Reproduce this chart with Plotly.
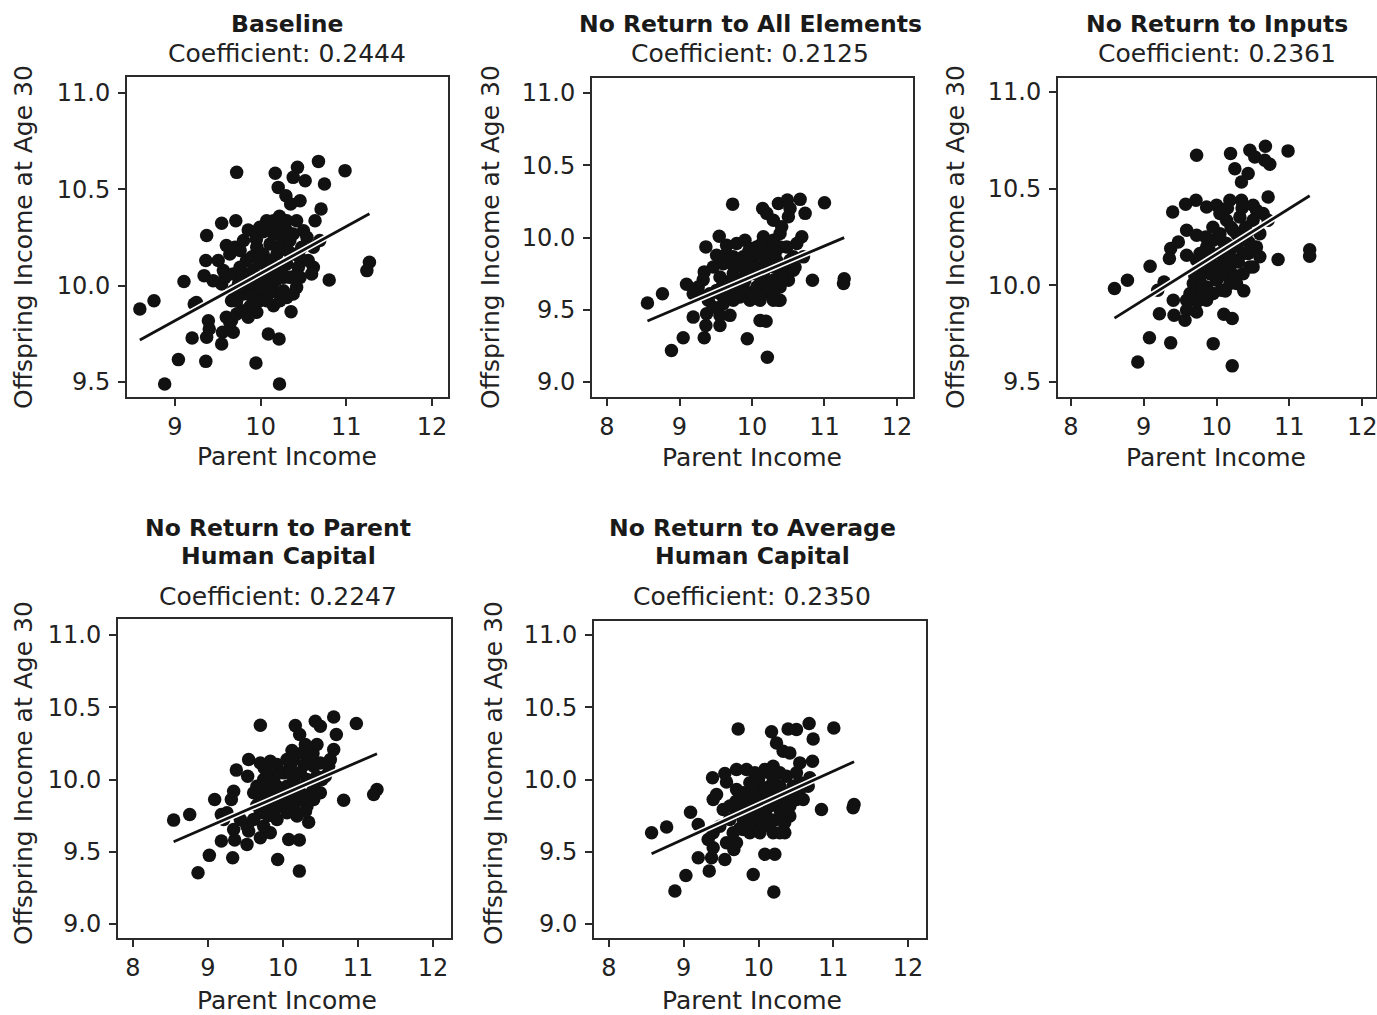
import plotly.graph_objects as go

# ---------------------------------------------------------------------------
# Data: log parent income (x) and log offspring income at age 30 (y)
# for the baseline model and four counterfactual simulations.
# ---------------------------------------------------------------------------
panel_titles = [
    ["Baseline"],
    ["No Return to All Elements"],
    ["No Return to Inputs"],
    ["No Return to Parent", "Human Capital"],
    ["No Return to Average", "Human Capital"],
]
coefficients = [0.2444, 0.2125, 0.2361, 0.2247, 0.2350]
fit_intercepts = [7.619, 7.604, 7.800, 7.650, 7.4725]

baseline_x = [8.59, 8.755, 9.105, 9.04, 8.88, 9.20, 9.36, 9.37, 9.225, 9.25, 9.37, 9.36, 9.34, 9.39, 9.40,
              9.545, 9.72, 9.71, 9.545, 9.555, 9.68, 9.64, 9.945, 10.22, 10.09, 10.215, 10.355, 10.80, 10.985,
              10.675, 10.745, 10.705, 10.635, 10.69, 11.27, 11.24, 10.17, 10.43, 10.205, 10.295, 10.38, 10.52,
              10.35, 10.46, 9.855, 9.945, 9.76, 9.60, 9.64, 9.505, 10.615, 10.595, 10.555, 10.50, 10.48, 9.915,
              9.80, 9.955, 9.875, 10.15, 10.225, 10.305, 10.42, 10.34, 9.60, 9.66, 9.72, 9.585, 9.565, 9.68,
              9.74, 9.815, 9.915, 9.99, 10.07, 10.03, 10.11, 10.15, 10.225, 10.305, 10.15, 10.07, 9.99, 10.19,
              10.265, 10.305, 10.38, 10.38, 10.44, 10.265, 10.19, 10.11, 10.03, 9.915, 9.835, 9.76, 9.68, 9.915,
              10.15, 10.46, 10.34, 10.245, 9.70, 9.80, 9.955, 10.07, 10.265, 10.38, 9.99, 9.835, 10.305, 10.42,
              10.615, 10.54, 9.78, 9.855, 10.07, 9.66, 9.545, 9.445,
              9.90, 9.98, 10.05, 10.12, 10.20, 10.26, 10.10, 9.86, 9.78, 10.00, 10.18, 10.32, 10.40, 9.95,
              10.03, 10.22, 9.72, 9.88, 10.45, 10.12]
baseline_y = [9.879, 9.922, 10.021, 9.616, 9.49, 9.728, 9.607, 9.732, 9.905, 9.913, 10.26, 10.13, 10.052, 9.818,
              9.775, 10.324, 10.588, 10.337, 9.697, 9.758, 9.758, 9.81, 9.599, 9.49, 9.749, 9.723, 9.865, 10.029,
              10.597, 10.645, 10.528, 10.398, 10.337, 10.234, 10.121, 10.078, 10.583, 10.614, 10.51, 10.467,
              10.562, 10.545, 10.424, 10.441, 10.289, 10.268, 10.182, 10.208, 10.164, 10.13, 10.095, 10.061,
              10.13, 10.285, 10.199, 9.939, 9.957, 9.862, 9.891, 9.896, 9.922, 9.939, 9.991, 10.043, 9.836, 9.818,
              9.853, 10.043, 10.078, 10.061, 10.009, 10.043, 10.009, 10.043, 10.095, 10.164, 10.216, 10.268,
              10.303, 10.337, 10.337, 10.337, 10.303, 10.164, 10.199, 10.112, 10.164, 10.268, 10.095, 10.043,
              10.078, 10.009, 9.974, 10.078, 10.13, 10.095, 9.974, 9.957, 9.974, 10.043, 10.234, 10.251, 10.199,
              10.234, 10.199, 10.061, 9.974, 9.957, 9.922, 9.991, 10.285, 10.337, 10.199, 10.251, 9.87, 9.836,
              9.922, 9.922, 10.009, 10.026,
              10.15, 10.12, 10.02, 10.13, 10.20, 10.10, 9.96, 10.06, 10.05, 9.99, 10.03, 10.18, 10.05, 10.24,
              10.28, 10.36, 9.92, 9.95, 10.15, 10.30]

no_all_x = [8.558, 8.765, 9.097, 8.889, 9.051, 9.189, 9.341, 9.364, 9.373, 9.272, 9.364, 9.341, 9.327, 9.548,
            9.733, 9.65, 9.788, 9.903, 9.972, 9.558, 9.558, 9.696, 9.935, 10.212, 10.111, 10.194, 10.364, 10.834,
            11.0, 10.664, 10.733, 10.687, 10.618, 10.71, 11.272, 11.263, 10.147, 10.364, 10.488, 10.203, 10.295,
            10.41, 10.525, 10.502, 9.512, 9.465, 9.604, 9.65, 9.742, 9.558, 9.512, 9.65, 9.742, 9.834, 9.972,
            10.065, 10.157, 10.295, 10.387, 10.502, 10.571, 10.479, 10.387, 10.295, 10.203, 10.111, 10.065,
            10.203, 10.157, 10.295, 10.387, 10.479, 10.571, 9.972, 9.926, 9.834, 9.742, 9.88, 10.018, 10.111,
            10.203, 10.295, 10.018, 9.88, 9.788, 9.696, 9.604, 9.419, 9.396, 9.465, 9.189, 9.258, 10.387, 10.295,
            10.111, 9.972, 10.525, 10.594, 10.387, 10.318, 9.88, 9.742, 9.558,
            9.70, 9.80, 9.90, 10.00, 10.08, 10.16, 10.25, 10.34, 10.44, 9.85, 9.95, 10.05, 10.25, 10.42, 9.60,
            10.12, 10.30, 9.75]
no_all_y = [9.546, 9.611, 9.676, 9.218, 9.306, 9.449, 9.306, 9.391, 9.472, 9.611, 9.935, 9.762, 9.708, 10.009,
            10.231, 9.947, 9.958, 9.981, 9.924, 9.391, 9.461, 9.461, 9.299, 9.171, 9.426, 9.421, 9.565, 9.704,
            10.241, 10.264, 10.167, 10.005, 9.958, 9.866, 9.715, 9.681, 10.201, 10.236, 10.259, 10.167, 10.12,
            10.074, 10.201, 10.144, 9.877, 9.796, 9.819, 9.889, 9.866, 9.727, 9.634, 9.588, 9.634, 9.588, 9.611,
            9.657, 9.611, 9.611, 9.657, 9.704, 9.773, 9.796, 9.75, 9.796, 9.843, 9.889, 9.935, 9.935, 10.005,
            9.981, 9.935, 9.935, 9.866, 9.819, 9.75, 9.704, 9.75, 9.796, 9.75, 9.727, 9.681, 9.704, 9.866, 9.866,
            9.681, 9.657, 9.542, 9.611, 9.565, 9.519, 9.611, 9.657, 9.565, 9.565, 9.565, 9.565, 9.843, 9.796,
            10.028, 9.889, 9.657, 9.565, 9.611,
            9.70, 9.62, 9.70, 9.82, 9.80, 9.76, 9.86, 9.84, 9.78, 9.85, 9.90, 9.60, 9.65, 9.72, 9.68, 9.95,
            9.93, 9.80]

no_inputs_x = [8.598, 8.776, 9.087, 8.918, 9.078, 9.37, 9.215, 9.192, 9.279, 9.397, 9.37, 9.352, 9.406, 9.416,
               9.575, 9.726, 9.717, 9.566, 9.589, 9.726, 9.954, 10.215, 10.1, 10.215, 10.374, 10.845, 10.982,
               10.671, 10.731, 10.708, 10.639, 10.594, 11.279, 11.279, 10.192, 10.457, 10.251, 10.342, 10.525,
               10.434, 10.342, 10.502, 9.589, 9.726, 9.475, 9.589, 10.548, 10.548, 10.502, 9.863, 10.0, 10.183,
               10.046, 10.137, 10.228, 10.32, 10.411, 10.365, 10.274, 10.183, 10.091, 10.0, 9.909, 9.817, 9.726,
               9.772, 9.863, 9.954, 10.046, 10.137, 10.228, 10.434, 10.457, 10.365, 10.274, 10.183, 10.068, 9.954,
               9.863, 9.772, 9.68, 9.635, 9.68, 9.772, 9.909, 10.046, 10.091, 10.183, 9.863, 9.589, 10.594,
               10.502, 10.274, 10.708, 10.662,
               9.70, 9.80, 9.90, 10.00, 10.10, 10.20, 10.30, 10.40, 10.05, 10.25, 9.95, 10.15, 10.35, 9.85,
               10.45, 9.75, 10.12, 10.30]
no_inputs_y = [9.983, 10.026, 10.098, 9.603, 9.729, 9.702, 9.853, 9.974, 10.017, 10.379, 10.19, 10.138, 9.922,
               9.845, 10.419, 10.672, 10.44, 9.819, 9.871, 9.862, 9.698, 9.583, 9.85, 9.828, 9.971, 10.133,
               10.695, 10.719, 10.626, 10.457, 10.371, 10.267, 10.184, 10.15, 10.681, 10.698, 10.603, 10.534,
               10.664, 10.578, 10.44, 10.414, 10.284, 10.259, 10.224, 10.155, 10.198, 10.388, 10.336, 10.405,
               10.414, 10.44, 10.371, 10.336, 10.284, 10.353, 10.267, 10.164, 10.129, 10.095, 10.06, 10.026,
               10.06, 10.095, 10.129, 10.164, 10.198, 10.233, 10.267, 10.216, 10.198, 10.164, 10.095, 10.06,
               10.009, 10.009, 9.974, 9.957, 9.991, 9.957, 9.922, 9.957, 10.009, 10.043, 10.129, 10.164, 10.112,
               10.147, 9.922, 9.922, 10.147, 10.095, 10.267, 10.336, 10.647,
               10.05, 10.00, 10.18, 10.10, 10.22, 10.30, 10.22, 10.30, 10.05, 10.05, 10.30, 10.40, 10.40, 10.25,
               10.22, 9.92, 9.97, 10.12]

no_parent_x = [8.542, 8.756, 9.089, 8.867, 9.018, 9.178, 9.329, 9.356, 9.342, 9.178, 9.378, 9.342, 9.311, 9.52,
               9.542, 9.698, 9.698, 9.529, 9.542, 9.698, 9.929, 10.218, 10.076, 10.218, 10.342, 10.809, 10.978,
               10.676, 10.711, 10.676, 10.609, 10.564, 11.253, 11.209, 10.164, 10.431, 10.222, 10.298, 10.498,
               10.453, 10.342, 10.498, 9.831, 9.92, 9.653, 9.742, 9.609, 9.698, 9.787, 9.876, 9.964, 10.053,
               10.142, 10.231, 10.32, 10.409, 10.498, 10.409, 10.32, 10.231, 10.142, 10.053, 9.964, 9.876, 9.787,
               9.698, 9.609, 9.52, 9.92, 10.053, 10.187, 10.098, 10.009, 9.876, 10.142, 10.253, 10.409, 10.52,
               10.631, 9.831, 9.431, 10.053, 10.231, 9.92, 9.787, 9.742, 9.209, 9.253,
               9.70, 9.80, 9.85, 9.95, 10.05, 10.10, 10.20, 10.28, 10.36, 10.45, 10.00, 10.15, 9.65, 9.90, 10.30,
               10.12, 10.40, 9.75]
no_parent_y = [9.719, 9.758, 9.862, 9.355, 9.475, 9.574, 9.459, 9.581, 9.654, 9.758, 10.065, 9.919, 9.862, 9.551,
               10.138, 10.376, 10.115, 10.023, 9.643, 9.597, 9.447, 9.366, 9.585, 9.581, 9.705, 9.857, 10.387,
               10.433, 10.311, 10.207, 10.092, 10.023, 9.931, 9.896, 10.373, 10.403, 10.311, 10.242, 10.369,
               10.242, 10.161, 10.115, 10.127, 10.104, 9.954, 10.0, 9.908, 9.862, 9.908, 9.862, 9.908, 9.954,
               10.0, 10.046, 10.0, 9.954, 9.908, 9.862, 9.816, 9.862, 9.816, 9.862, 9.816, 9.77, 9.816, 9.77,
               9.724, 9.677, 9.724, 9.77, 9.747, 10.092, 10.046, 10.0, 10.138, 10.184, 10.092, 10.0, 10.138,
               9.631, 9.724, 10.138, 9.908, 9.954, 10.046, 9.677, 9.724, 9.77,
               9.95, 9.75, 9.95, 10.05, 9.90, 10.05, 9.95, 10.10, 9.90, 10.02, 9.85, 9.88, 9.82, 9.80, 9.78,
               10.20, 10.18, 10.08]

no_average_x = [8.57, 8.771, 9.091, 8.882, 9.029, 9.194, 9.341, 9.372, 9.394, 9.327, 9.194, 9.385, 9.394, 9.439,
                9.55, 9.55, 9.728, 9.706, 9.84, 9.951, 9.572, 9.572, 9.67, 9.929, 10.205, 10.085, 10.218, 10.352,
                10.842, 11.007, 10.677, 10.731, 10.722, 10.686, 10.664, 11.265, 11.278, 10.174, 10.396, 10.241,
                10.33, 10.508, 10.419, 10.508, 10.552, 10.196, 10.285, 10.085, 10.374, 9.706, 9.795, 9.884, 9.929,
                9.795, 9.706, 9.617, 9.617, 9.661, 9.795, 9.884, 9.929, 10.018, 10.018, 10.107, 10.151, 10.24,
                10.33, 10.419, 10.463, 10.508, 10.419, 10.33, 10.24, 10.151, 10.196, 10.107, 10.285, 10.419,
                10.552, 10.597, 9.884, 10.018, 9.84, 9.528, 9.394, 10.285, 10.151, 9.706, 9.751, 9.483, 10.018,
                10.285,
                9.70, 9.80, 9.88, 9.97, 10.05, 10.12, 10.20, 10.28, 10.36, 10.45, 10.00, 10.20, 9.75, 10.07,
                10.35, 10.55, 9.92, 10.12]
no_average_y = [9.631, 9.671, 9.774, 9.228, 9.336, 9.459, 9.366, 9.459, 9.528, 9.585, 9.689, 10.012, 9.862, 9.896,
                9.447, 10.041, 10.35, 10.069, 10.069, 10.046, 9.982, 9.562, 9.516, 9.343, 9.221, 9.482, 9.482,
                9.631, 9.793, 10.357, 10.387, 10.281, 10.127, 10.012, 9.954, 9.804, 9.827, 10.33, 10.35, 10.253,
                10.196, 10.346, 10.184, 10.046, 10.115, 10.092, 10.046, 10.069, 10.023, 9.931, 9.908, 9.862, 9.77,
                9.724, 9.77, 9.816, 9.724, 9.631, 9.654, 9.631, 9.7, 9.724, 9.816, 9.862, 9.954, 9.908, 9.862,
                9.908, 9.954, 9.862, 9.816, 9.77, 9.724, 9.677, 9.631, 9.747, 9.793, 9.747, 9.931, 9.862, 9.977,
                9.954, 9.816, 9.793, 9.631, 9.954, 9.816, 9.562, 9.862, 9.677, 9.631, 9.631,
                9.85, 9.78, 9.70, 9.88, 9.78, 9.90, 9.85, 9.90, 9.82, 9.85, 10.00, 10.00, 9.66, 9.68, 9.70, 9.98,
                9.95, 10.05]

panel_x = [baseline_x, no_all_x, no_inputs_x, no_parent_x, no_average_x]
panel_y = [baseline_y, no_all_y, no_inputs_y, no_parent_y, no_average_y]

x_tick_values = [[9, 10, 11, 12], [8, 9, 10, 11, 12], [8, 9, 10, 11, 12], [8, 9, 10, 11, 12], [8, 9, 10, 11, 12]]
y_tick_values = [[9.5, 10.0, 10.5, 11.0], [9.0, 9.5, 10.0, 10.5, 11.0], [9.5, 10.0, 10.5, 11.0],
                 [9.0, 9.5, 10.0, 10.5, 11.0], [9.0, 9.5, 10.0, 10.5, 11.0]]

# ---------------------------------------------------------------------------
# Page geometry (pixels) for each panel
# ---------------------------------------------------------------------------
W, H = 1377, 1015
FONT = "DejaVu Sans"
INK = "#111111"
FRAME = "#2b2b2b"

# plot box: left, top, right, bottom
boxes = [(127, 77, 448, 397), (592, 78, 913, 397), (1058, 78, 1376, 397),
         (118, 619, 451, 938), (594, 621, 926, 938)]
x_ranges = [(8.44, 12.187), (7.793, 12.221), (7.822, 12.19), (7.8, 12.24), (7.8, 12.24)]
y_ranges = [(9.422, 11.083), (8.896, 11.104), (9.422, 11.072), (8.903, 11.111), (8.903, 11.097)]
# title block: centre x, y of each bold line, y of the coefficient line
title_cx = [287, 750, 1217, 278, 752]
title_rows = [[24], [24], [24], [528, 556], [528, 556]]
coef_y = [54, 54, 54, 596, 596]
xtitle_pos = [(287, 456), (752, 457), (1216, 457), (287, 1000), (752, 1000)]
ytitle_pos = [(24, 237), (491, 237), (956, 237), (23, 773), (493, 773)]


def px(xp):
    return xp / W


def py(yp):
    return 1 - yp / H


fig = go.Figure()
annotations = []
layout_axes = {}

for i in range(5):
    n = "" if i == 0 else str(i + 1)
    xa, ya = "x" + n, "y" + n
    xs, ys = panel_x[i], panel_y[i]

    fig.add_trace(go.Scatter(
        x=xs, y=ys, mode="markers", xaxis=xa, yaxis=ya, showlegend=False,
        marker=dict(size=13.5, color=INK, line=dict(width=0)), hoverinfo="skip"))

    # fitted regression line: slope is the reported coefficient
    lo, hi = min(xs), max(xs)
    fx = [lo, hi]
    fy = [fit_intercepts[i] + coefficients[i] * v for v in fx]
    fig.add_trace(go.Scatter(x=fx, y=fy, mode="lines", xaxis=xa, yaxis=ya, showlegend=False,
                             line=dict(color="white", width=6), hoverinfo="skip"))
    fig.add_trace(go.Scatter(x=fx, y=fy, mode="lines", xaxis=xa, yaxis=ya, showlegend=False,
                             line=dict(color=INK, width=2.8), hoverinfo="skip"))

    l, t, r, b = boxes[i]
    common = dict(showline=True, linecolor=FRAME, linewidth=2, mirror=True, ticks="outside",
                  ticklen=7, tickwidth=2, tickcolor=FRAME, showgrid=False, zeroline=False,
                  tickfont=dict(family=FONT, size=24, color="#222"), fixedrange=True,
                  ticklabeloverflow="allow")
    layout_axes["xaxis" + n] = dict(common, domain=[px(l), px(r)], range=list(x_ranges[i]),
                                    anchor=ya, tickvals=x_tick_values[i],
                                    ticktext=[str(v) for v in x_tick_values[i]],
                                    ticklabelstandoff=0)
    layout_axes["yaxis" + n] = dict(common, domain=[py(b), py(t)], range=list(y_ranges[i]),
                                    anchor=xa, tickvals=y_tick_values[i],
                                    ticktext=["%.1f" % v for v in y_tick_values[i]],
                                    ticklabelstandoff=3)

    for line_text, yy in zip(panel_titles[i], title_rows[i]):
        annotations.append(dict(text="<b>%s</b>" % line_text, x=px(title_cx[i]), y=py(yy),
                                xref="paper", yref="paper", xanchor="center", yanchor="middle",
                                showarrow=False, font=dict(family=FONT, size=23.5, color="#1a1a1a")))
    annotations.append(dict(text="Coefficient: %.4f" % coefficients[i], x=px(title_cx[i]), y=py(coef_y[i]),
                            xref="paper", yref="paper", xanchor="center", yanchor="middle",
                            showarrow=False, font=dict(family=FONT, size=25, color="#222")))
    annotations.append(dict(text="Parent Income", x=px(xtitle_pos[i][0]), y=py(xtitle_pos[i][1]),
                            xref="paper", yref="paper", xanchor="center", yanchor="middle",
                            showarrow=False, font=dict(family=FONT, size=25, color="#222")))
    annotations.append(dict(text="Offspring Income at Age 30", x=px(ytitle_pos[i][0]), y=py(ytitle_pos[i][1]),
                            xref="paper", yref="paper", xanchor="center", yanchor="middle", textangle=-90,
                            showarrow=False, font=dict(family=FONT, size=25, color="#222")))

fig.update_layout(
    width=W, height=H, margin=dict(l=0, r=0, t=0, b=0),
    paper_bgcolor="white", plot_bgcolor="white",
    annotations=annotations, showlegend=False, **layout_axes)

fig.write_html("out.html", config={"displayModeBar": False})
